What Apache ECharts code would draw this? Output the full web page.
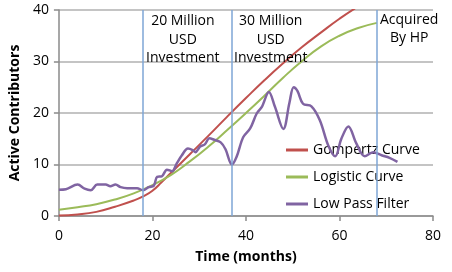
<!DOCTYPE html>
<html>
<head>
<meta charset="utf-8">
<script src="https://cdn.jsdelivr.net/npm/echarts@6/dist/echarts.min.js"></script>
<style>
html,body{margin:0;padding:0;background:#fff;}
#chart{width:452px;height:272px;}
</style>
</head>
<body>
<div id="chart"></div>
<script>
// ---- Data ----
const gompertzMonths = [0, 4, 8, 12, 16, 18, 20, 22, 24, 28, 32, 36, 40, 44, 48, 52, 56, 60, 64, 68];
const gompertzValues = [0.1, 0.3, 0.8, 1.8, 3.0, 3.8, 4.9, 6.6, 8.4, 12.0, 15.6, 19.3, 22.9, 26.4, 29.7, 32.8, 35.6, 38.3, 40.7, 42.8];

const logisticMonths = [0, 4, 8, 12, 16, 20, 24, 28, 32, 36, 40, 44, 48, 52, 56, 60, 64, 68];
const logisticValues = [1.2, 1.7, 2.3, 3.2, 4.4, 6.0, 8.0, 10.6, 13.5, 16.7, 20.0, 23.4, 26.9, 30.1, 32.9, 35.0, 36.5, 37.5];

const lowPassMonths = [0, 1.5, 4, 5.5, 6.8, 8.2, 10, 11, 12.1, 13.2, 14.6, 16.7, 18, 19.2, 20.3, 21, 22, 23.1, 24.2, 25.2, 26.3, 27.6, 28.6, 29.2, 30.2, 31.2, 32.2, 33.2, 34.6, 35.6, 37, 38, 39.4, 40.9, 42.3, 43.4, 44.9, 46.2, 48, 49.3, 50.2, 51, 52.2, 54, 55.8, 57.6, 59.1, 60.4, 61.9, 63.6, 65.4, 67.2, 69, 70.7, 72.4];
const lowPassValues = [5.1, 5.2, 6.1, 5.3, 5.0, 6.1, 6.1, 5.8, 6.1, 5.6, 5.4, 5.4, 5.0, 5.6, 5.9, 7.6, 7.7, 9.0, 8.7, 10.2, 11.8, 13.1, 12.8, 12.4, 13.5, 13.9, 15.1, 14.8, 14.3, 13.0, 10.0, 11.5, 15.3, 17.0, 19.9, 21.2, 24.1, 21.2, 16.9, 22.0, 25.0, 24.3, 21.8, 21.3, 18.6, 13.7, 11.6, 15.0, 17.4, 14.1, 11.6, 12.4, 11.8, 11.3, 10.5];

const seriesNames = ['Gompertz Curve', 'Logistic Curve', 'Low Pass Filter'];
const eventMonths = [18, 37, 68];
const eventLabels = ['20 Million\nUSD\nInvestment', '30 Million\nUSD\nInvestment', 'Acquired\nBy HP'];

const xAxisTitle = 'Time (months)';
const yAxisTitle = 'Active Contributors';

// ---- Build ----
const pairs = (xs, ys) => xs.map((x, i) => [x, ys[i]]);
const FONT = '"Open Sans", "Liberation Sans", sans-serif';

// label anchor positions (layout, not data)
const annotationAnchors = [[26.5, 34.2], [45.3, 34.2], [74.9, 36.3]];

const chart = echarts.init(document.getElementById('chart'), null, {renderer: 'canvas'});
chart.setOption({
  animation: false,
  backgroundColor: '#ffffff',
  textStyle: {fontFamily: FONT},
  grid: {left: 58, right: 19, top: 10, bottom: 56, containLabel: false},
  legend: {
    data: seriesNames,
    orient: 'vertical',
    left: 281,
    top: 138,
    itemWidth: 22,
    itemHeight: 3,
    itemGap: 13,
    icon: 'rect',
    textStyle: {fontFamily: FONT, fontSize: 14, color: '#000'}
  },
  xAxis: {
    type: 'value',
    min: 0, max: 80, interval: 20,
    name: xAxisTitle,
    nameLocation: 'middle',
    nameGap: 34,
    nameTextStyle: {fontFamily: FONT, fontSize: 14, fontWeight: 'bold', color: '#000'},
    axisLine: {show: true, lineStyle: {color: '#8a8a8a', width: 1.5}},
    axisTick: {show: true, length: 5, lineStyle: {color: '#8a8a8a', width: 1.5}},
    axisLabel: {fontFamily: FONT, fontSize: 14, color: '#000', margin: 13},
    splitLine: {show: false}
  },
  yAxis: {
    type: 'value',
    min: 0, max: 40, interval: 10,
    name: yAxisTitle,
    nameLocation: 'middle',
    nameGap: 30,
    nameTextStyle: {fontFamily: FONT, fontSize: 14, fontWeight: 'bold', color: '#000'},
    axisLine: {show: true, lineStyle: {color: '#8a8a8a', width: 1.5}},
    axisTick: {show: true, length: 5, lineStyle: {color: '#8a8a8a', width: 1.5}},
    axisLabel: {fontFamily: FONT, fontSize: 14, color: '#000', margin: 10},
    splitLine: {show: true, lineStyle: {color: '#b0b0b0', width: 1.5}}
  },
  series: [
    {
      name: seriesNames[0], type: 'line', data: pairs(gompertzMonths, gompertzValues),
      smooth: true, symbol: 'none', clip: true,
      lineStyle: {color: '#c0504d', width: 2}, itemStyle: {color: '#c0504d'}, z: 3
    },
    {
      name: seriesNames[1], type: 'line', data: pairs(logisticMonths, logisticValues),
      smooth: true, symbol: 'none', clip: true,
      lineStyle: {color: '#9bbb59', width: 2}, itemStyle: {color: '#9bbb59'}, z: 3
    },
    {
      name: seriesNames[2], type: 'line', data: pairs(lowPassMonths, lowPassValues),
      smooth: 0.35, symbol: 'none', clip: true,
      lineStyle: {color: '#8064a2', width: 2.5}, itemStyle: {color: '#8064a2'}, z: 4,
      markLine: {
        silent: true, symbol: 'none', animation: false,
        label: {show: false},
        lineStyle: {color: '#7ea6d6', width: 1.5, type: 'solid'},
        data: eventMonths.map(m => ({xAxis: m}))
      },
      markPoint: {
        silent: true, symbol: 'circle', symbolSize: 0, animation: false,
        label: {
          show: true, position: 'inside', color: '#000',
          fontFamily: FONT, fontSize: 14, lineHeight: 18.5, align: 'center', verticalAlign: 'middle'
        },
        data: eventLabels.map((t, i) => ({coord: annotationAnchors[i], value: t, label: {formatter: t}}))
      }
    }
  ]
});
</script>
</body>
</html>
